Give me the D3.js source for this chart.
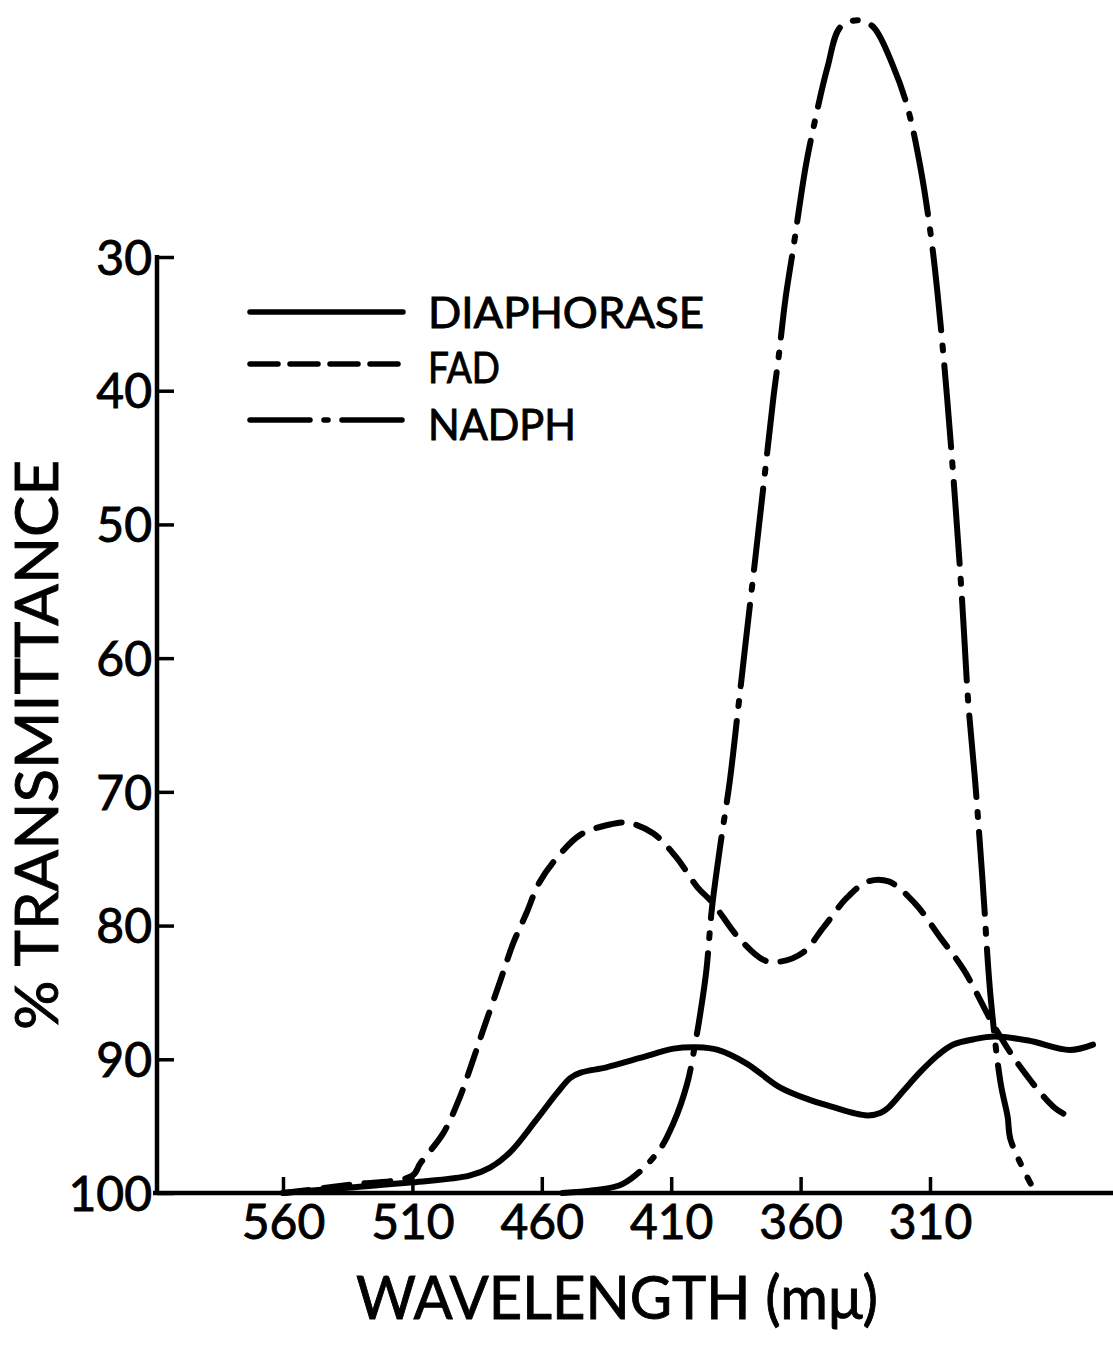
<!DOCTYPE html>
<html>
<head>
<meta charset="utf-8">
<script src="https://cdn.jsdelivr.net/npm/d3@7"></script>
<style>
  html, body { margin: 0; padding: 0; background: #fff; }
  svg { display: block; }
  text { font-family: Lato, "Noto Sans", sans-serif; fill: #000; stroke: #000; stroke-width: 0.9px; }
</style>
</head>
<body>
<svg id="chart" width="1113" height="1345"></svg>
<script>
// Transmittance spectra: diaphorase, FAD, NADPH
// wavelength (mu) vs % transmittance

var xTicks = [560, 510, 460, 410, 360, 310];
var yTicks = [30, 40, 50, 60, 70, 80, 90, 100];

var diaphoraseWl = [560, 535, 510, 488, 480, 472, 462, 454, 449, 445, 435, 422, 409, 400, 392, 381, 368, 357, 347, 340, 334, 329, 326, 320, 314, 307, 301, 293, 285, 272, 256, 247];
var diaphoraseVal = [100, 99.6, 99.2, 98.7, 98.1, 96.9, 94.5, 92.5, 91.4, 91.0, 90.6, 89.9, 89.2, 89.1, 89.3, 90.3, 92.1, 93.0, 93.6, 94.0, 94.2, 94.0, 93.6, 92.3, 91.0, 89.7, 88.9, 88.5, 88.3, 88.6, 89.3, 88.9];

var fadWl = [560, 535, 510, 507, 498, 492, 487, 483, 476, 471, 466, 461, 454, 445, 435, 427, 417, 408, 400, 394, 384, 374, 368, 359, 351, 342, 334, 326, 316, 306, 297, 285, 275, 262, 256];
var fadVal = [100, 99.4, 98.7, 97.8, 95.5, 93.0, 90.3, 88.0, 84.1, 81.3, 79.1, 76.8, 74.9, 73.2, 72.5, 72.3, 73.1, 74.9, 77.1, 78.3, 80.9, 82.6, 82.7, 82.0, 80.1, 77.9, 76.7, 76.7, 78.3, 80.9, 83.3, 87.6, 90.6, 93.6, 94.3];

var nadphWl = [452, 440, 428.5, 415.4, 409.2, 403.8, 400.7, 398.7, 396.5, 394.2, 391.1, 387.3, 384.2, 381.1, 377.6, 374.1, 370.5, 368.5, 365.9, 362.8, 358.1, 355, 349.6, 344.6, 337.7, 331.9, 324.1, 318.7, 313.7, 309.8, 307.1, 303.4, 300.3, 297.6, 295.3, 292.6, 289.7, 286.6, 282.7, 280, 278.9, 271.1];
var nadphVal = [100, 99.8, 99.3, 97.0, 94.8, 91.8, 88.8, 86.5, 83.5, 78.6, 74.1, 69.1, 63.9, 58.6, 52.7, 46.7, 40.5, 37.5, 33.2, 29.3, 23.3, 20.3, 15.8, 12.8, 12.3, 12.8, 15.8, 18.8, 23.3, 28.2, 32.7, 40.5, 48.2, 55.7, 63.1, 69.1, 76.6, 85.3, 91.8, 94.3, 96.0, 99.3];

var seriesNames = ["DIAPHORASE", "FAD", "NADPH"];

(function () {
  "use strict";

  var svg = d3.select("#chart");
  var W = 1113, H = 1345;
  var axisX = 157, axisBottom = 1193, axisTop = 257;

  svg.append("rect").attr("width", W).attr("height", H).attr("fill", "#fff");

  // reversed wavelength axis
  var x = d3.scaleLinear().domain([560, 310]).range([283, 930]);
  var y = d3.scaleLinear().domain([30, 100]).range([axisTop, axisBottom]);

  // --- axes ---
  var yAxis = d3.axisLeft(y)
    .tickValues(yTicks)
    .tickSize(-17)
    .tickPadding(5)
    .tickSizeOuter(0);
  var gy = svg.append("g").attr("transform", "translate(" + axisX + ",0)").call(yAxis);
  gy.select(".domain").remove();
  gy.selectAll(".tick line").attr("stroke", "#000").attr("stroke-width", 3.5);
  gy.selectAll(".tick text")
    .attr("font-size", 48)
    .attr("font-family", "Lato, sans-serif")
    .attr("fill", "#000")
    .attr("dy", "0.36em");

  var xAxis = d3.axisBottom(x)
    .tickValues(xTicks)
    .tickSize(-16)
    .tickPadding(12)
    .tickSizeOuter(0);
  var gx = svg.append("g").attr("transform", "translate(0," + axisBottom + ")").call(xAxis);
  gx.select(".domain").remove();
  gx.selectAll(".tick line").attr("stroke", "#000").attr("stroke-width", 3.5);
  gx.selectAll(".tick text")
    .attr("font-size", 48)
    .attr("font-family", "Lato, sans-serif")
    .attr("fill", "#000");

  // axis lines
  svg.append("line")
    .attr("x1", axisX).attr("x2", axisX)
    .attr("y1", axisTop - 2).attr("y2", axisBottom + 2)
    .attr("stroke", "#000").attr("stroke-width", 4.5);
  svg.append("line")
    .attr("x1", axisX - 4).attr("x2", W)
    .attr("y1", axisBottom).attr("y2", axisBottom)
    .attr("stroke", "#000").attr("stroke-width", 4.5);

  // --- curves ---
  var line = d3.line()
    .x(function (d) { return x(d[0]); })
    .y(function (d) { return y(d[1]); })
    .curve(d3.curveCatmullRom.alpha(0.5));

  function zip(a, b) {
    return a.map(function (v, i) { return [v, b[i]]; });
  }

  var styles = [
    { data: zip(diaphoraseWl, diaphoraseVal), dash: null },
    { data: zip(fadWl, fadVal), dash: "26,15" },
    { data: zip(nadphWl, nadphVal), dash: "82,15,5,15" }
  ];

  styles.forEach(function (s) {
    svg.append("path")
      .datum(s.data)
      .attr("d", line)
      .attr("fill", "none")
      .attr("stroke", "#000")
      .attr("stroke-width", 6)
      .attr("stroke-linecap", "round")
      .attr("stroke-linejoin", "round")
      .attr("stroke-dasharray", s.dash);
  });

  // --- legend ---
  var legendY = [312, 364, 420];
  var legendBase = [328, 383, 440];
  var legendW = [276, 72, 148];
  var legendDash = [null, "28,12", "60,14,4,14"];
  var legend = svg.append("g");
  seriesNames.forEach(function (name, i) {
    legend.append("line")
      .attr("x1", 250).attr("x2", 403)
      .attr("y1", legendY[i]).attr("y2", legendY[i])
      .attr("stroke", "#000")
      .attr("stroke-width", 5.5)
      .attr("stroke-linecap", "round")
      .attr("stroke-dasharray", legendDash[i]);
    legend.append("text")
      .attr("x", 428)
      .attr("y", legendBase[i])
      .attr("font-size", 42)
      .attr("textLength", legendW[i])
      .attr("lengthAdjust", "spacingAndGlyphs")
      .text(name);
  });

  // --- titles ---
  svg.append("text")
    .attr("transform", "translate(58,745) rotate(-90)")
    .attr("text-anchor", "middle")
    .attr("font-size", 60)
    .attr("textLength", 570)
    .attr("lengthAdjust", "spacingAndGlyphs")
    .text("% TRANSMITTANCE");

  svg.append("text")
    .attr("x", 617)
    .attr("y", 1319)
    .attr("text-anchor", "middle")
    .attr("font-size", 60)
    .attr("textLength", 522)
    .attr("lengthAdjust", "spacingAndGlyphs")
    .text("WAVELENGTH (m\u03bc)");
})();
</script>
</body>
</html>
